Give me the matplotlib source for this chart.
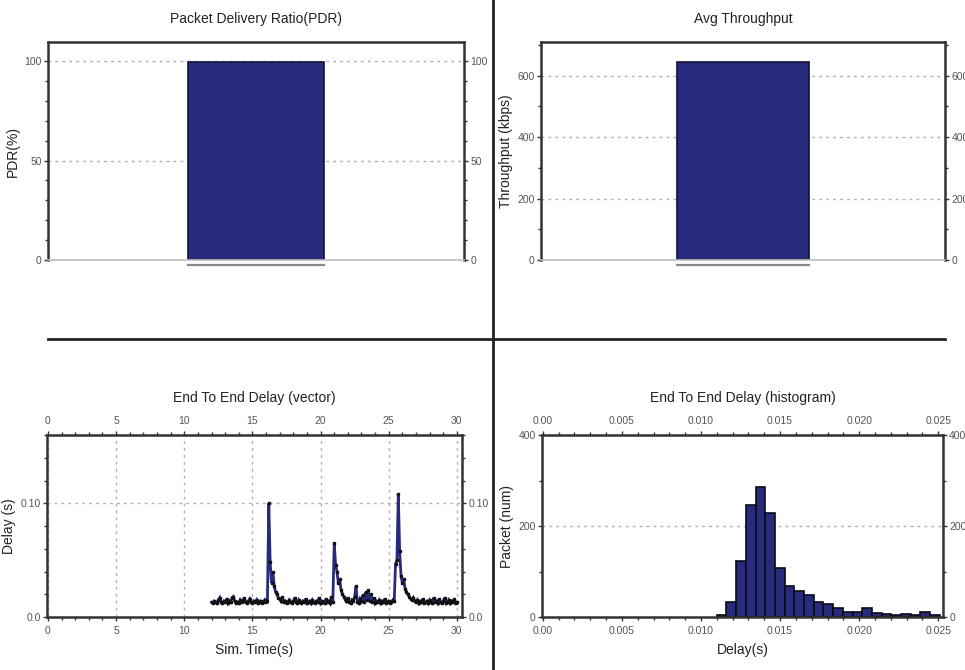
import numpy as np
import matplotlib.pyplot as plt
import matplotlib.transforms as mtransforms
from matplotlib.lines import Line2D
from matplotlib.ticker import MultipleLocator

plt.rcParams['font.family'] = ['Liberation Sans Narrow', 'DejaVu Sans Condensed',
                               'Liberation Sans', 'DejaVu Sans']

# top panels: one bar each
pdr_value = [99.5]
throughput_kbps = [644]

# end to end delay vector (time in s, delay in ms)
sim_time = [
    12.0, 12.1, 12.2, 12.3, 12.4, 12.5, 12.6, 12.7, 12.8, 12.9,
    13.0, 13.1, 13.2, 13.3, 13.4, 13.5, 13.6, 13.7, 13.8, 13.9,
    14.0, 14.1, 14.2, 14.3, 14.4, 14.5, 14.6, 14.7, 14.8, 14.9,
    15.0, 15.1, 15.2, 15.3, 15.4, 15.5, 15.6, 15.7, 15.8, 15.9,
    16.0, 16.1, 16.2, 16.3, 16.4, 16.5, 16.6, 16.7, 16.8, 16.9,
    17.0, 17.1, 17.2, 17.3, 17.4, 17.5, 17.6, 17.7, 17.8, 17.9,
    18.0, 18.1, 18.2, 18.3, 18.4, 18.5, 18.6, 18.7, 18.8, 18.9,
    19.0, 19.1, 19.2, 19.3, 19.4, 19.5, 19.6, 19.7, 19.8, 19.9,
    20.0, 20.1, 20.2, 20.3, 20.4, 20.5, 20.6, 20.7, 20.8, 20.9,
    21.0, 21.1, 21.2, 21.3, 21.4, 21.5, 21.6, 21.7, 21.8, 21.9,
    22.0, 22.1, 22.2, 22.3, 22.4, 22.5, 22.6, 22.7, 22.8, 22.9,
    23.0, 23.1, 23.2, 23.3, 23.4, 23.5, 23.6, 23.7, 23.8, 23.9,
    24.0, 24.1, 24.2, 24.3, 24.4, 24.5, 24.6, 24.7, 24.8, 24.9,
    25.0, 25.1, 25.2, 25.3, 25.4, 25.5, 25.6, 25.7, 25.8, 25.9,
    26.0, 26.1, 26.2, 26.3, 26.4, 26.5, 26.6, 26.7, 26.8, 26.9,
    27.0, 27.1, 27.2, 27.3, 27.4, 27.5, 27.6, 27.7, 27.8, 27.9,
    28.0, 28.1, 28.2, 28.3, 28.4, 28.5, 28.6, 28.7, 28.8, 28.9,
    29.0, 29.1, 29.2, 29.3, 29.4, 29.5, 29.6, 29.7, 29.8, 29.9,
    30.0,
]
delay_ms = [
    13, 12, 14, 13, 12, 15, 17, 13, 12, 14,
    13, 16, 12, 14, 13, 17, 18, 14, 12, 13,
    12, 15, 13, 14, 17, 13, 12, 14, 16, 13,
    12, 14, 13, 15, 12, 13, 14, 12, 13, 15,
    13, 14, 100, 48, 30, 40, 27, 22, 20, 17,
    16, 14, 18, 13, 14, 12, 13, 15, 13, 12,
    14, 17, 13, 12, 15, 13, 12, 14, 13, 16,
    12, 13, 14, 12, 15, 13, 12, 14, 13, 17,
    12, 14, 13, 12, 16, 13, 14, 12, 18, 13,
    65, 46, 40, 30, 33, 24, 20, 18, 16, 14,
    17, 13, 12, 15, 14, 18, 27, 13, 12, 16,
    14, 19, 13, 22, 15, 24, 14, 20, 13, 17,
    12, 14, 13, 15, 12, 14, 13, 16, 12, 13,
    14, 12, 13, 15, 14, 47, 50, 108, 58, 36,
    30, 33, 25, 22, 20, 18, 16, 15, 17, 14,
    13, 15, 12, 14, 13, 16, 12, 13, 14, 12,
    15, 13, 12, 17, 13, 14, 12, 16, 13, 12,
    14, 17, 12, 13, 15, 12, 14, 13, 16, 12,
    13,
]

# end to end delay histogram
hist_edges = [0.01100, 0.01161, 0.01223, 0.01284, 0.01345, 0.01407, 0.01468,
              0.01529, 0.01590, 0.01652, 0.01713, 0.01774, 0.01836, 0.01897,
              0.01958, 0.02020, 0.02081, 0.02142, 0.02203, 0.02265, 0.02326,
              0.02387, 0.02449, 0.02510]
hist_counts = [4, 34, 123, 247, 285, 228, 108, 69, 58, 49, 34, 29, 20, 12,
               12, 19, 9, 7, 5, 7, 5, 10, 5]

navy = '#282b7b'
spine_c = '#333333'
tick_c = '#555555'
grid_kw = dict(color='#b0b0b0', linestyle=(0, (2, 3)), linewidth=1.0)

fig = plt.figure(figsize=(9.65, 6.70), dpi=100)


def style_axes(ax, bottom_light=False):
    for s in ax.spines.values():
        s.set_linewidth(1.8)
        s.set_color(spine_c)
    if bottom_light:
        ax.spines['bottom'].set_color('#bdbdbd')
        ax.spines['bottom'].set_linewidth(1.2)
    ax.tick_params(which='both', direction='out', colors=spine_c,
                   labelcolor=tick_c, labelsize=7.5, pad=1.5)
    ax.tick_params(which='major', length=3, width=1)
    ax.tick_params(which='minor', length=2, width=1)
    ax.set_axisbelow(True)


def bar_panel(rect, value, ymax, major, minor, title, ylabel):
    ax = fig.add_axes(rect)
    ax.bar([0], value, width=1.0, color=navy, edgecolor='#10123a', linewidth=1.2)
    ax.set_xlim(-1.53, 1.53)
    ax.set_ylim(0, ymax)
    ax.yaxis.set_major_locator(MultipleLocator(major))
    ax.yaxis.set_minor_locator(MultipleLocator(minor))
    ax.set_xticks([])
    ax.tick_params(axis='y', which='both', left=True, right=True,
                   labelleft=True, labelright=True)
    ax.yaxis.grid(True, **grid_kw)
    style_axes(ax, bottom_light=True)
    # grey underline below the bar
    off = mtransforms.offset_copy(ax.transData, fig=fig, y=-5, units='dots')
    ax.plot([-0.5, 0.5], [0, 0], color='#8a8a8a', lw=1.6, transform=off,
            clip_on=False)
    ax.set_title(title, fontsize=10, color='#222222', pad=14)
    ax.set_ylabel(ylabel, fontsize=10, color='#222222', labelpad=3)
    return ax


bar_panel([0.0497, 0.612, 0.431, 0.325], pdr_value, 109.5, 50, 10,
          'Packet Delivery Ratio(PDR)', 'PDR(%)')
bar_panel([0.5606, 0.612, 0.4187, 0.325], throughput_kbps, 709, 200, 100,
          'Avg Throughput', 'Throughput (kbps)')

# delay vector
ax3 = fig.add_axes([0.0487, 0.0791, 0.430, 0.2716])
ax3.plot(sim_time, np.array(delay_ms) / 1000.0, color=navy, lw=2.0,
         marker='s', ms=1.8, mfc='#111111', mec='#111111',
         solid_joinstyle='miter')
ax3.set_xlim(-0.07, 30.37)
ax3.set_ylim(0, 0.16)
ax3.set_xticks([0, 5, 10, 15, 20, 25, 30])
ax3.xaxis.set_minor_locator(MultipleLocator(1))
ax3.set_yticks([0, 0.1], labels=['0.0', '0.10'])
ax3.yaxis.set_minor_locator(MultipleLocator(0.02))
ax3.tick_params(which='both', top=True, labeltop=True, right=True,
                labelright=True)
ax3.tick_params(axis='x', pad=3)
ax3.grid(True, which='major', **grid_kw)
style_axes(ax3)
ax3.tick_params(axis='x', pad=3.5)
ax3.set_title('End To End Delay (vector)', fontsize=10, color='#222222', pad=10)
ax3.set_xlabel('Sim. Time(s)', fontsize=10, color='#222222', labelpad=5)
ax3.set_ylabel('Delay (s)', fontsize=10, color='#222222', labelpad=3)

# delay histogram
ax4 = fig.add_axes([0.5617, 0.0791, 0.4155, 0.2716])
ax4.bar(hist_edges[:-1], hist_counts, width=np.diff(hist_edges), align='edge',
        color=navy, edgecolor='#0a0a1a', linewidth=1.2)
ax4.set_xlim(-0.00005, 0.0253)
ax4.set_ylim(0, 400)
ax4.set_xticks([0, 0.005, 0.010, 0.015, 0.020, 0.025],
               labels=['0.00', '0.005', '0.010', '0.015', '0.020', '0.025'])
ax4.xaxis.set_minor_locator(MultipleLocator(0.001))
ax4.set_yticks([0, 200, 400])
ax4.yaxis.set_minor_locator(MultipleLocator(100))
ax4.tick_params(which='both', top=True, labeltop=True, right=True,
                labelright=True)
ax4.yaxis.grid(True, **grid_kw)
style_axes(ax4)
ax4.tick_params(axis='x', pad=3.5)
ax4.set_title('End To End Delay (histogram)', fontsize=10, color='#222222', pad=10)
ax4.set_xlabel('Delay(s)', fontsize=10, color='#222222', labelpad=5)
ax4.set_ylabel('Packet (num)', fontsize=10, color='#222222', labelpad=3)

# panel dividers
fig.add_artist(Line2D([0.511, 0.511], [0.0, 1.0], color='#222222', lw=2.0))
fig.add_artist(Line2D([0.0497, 0.979], [0.494, 0.494], color='#222222', lw=2.0))

fig.savefig('out.png', dpi=100)
